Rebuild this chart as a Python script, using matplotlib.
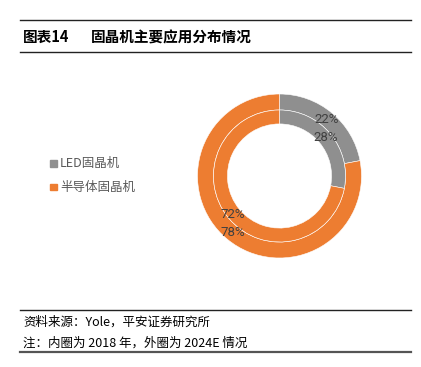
import matplotlib.pyplot as plt
from matplotlib.lines import Line2D

plt.rcParams['font.family'] = ['Noto Sans CJK SC', 'DejaVu Sans']

# 数据
categories = ["LED固晶机", "半导体固晶机"]
inner_2018 = [28, 72]
outer_2024 = [22, 78]
colors = ["#8f8f8f", "#ed7d31"]

W, H = 421, 367
fig = plt.figure(figsize=(W / 100, H / 100), dpi=100)

def fx(px):
    return px / W

def fy(py):
    return 1 - py / H

# titolo e linee di cornice
fig.add_artist(Line2D([fx(20), fx(411)], [fy(20), fy(20)], color="#222222", lw=1.0))
fig.add_artist(Line2D([fx(20), fx(411)], [fy(52), fy(52)], color="#222222", lw=1.0))
fig.text(fx(23), fy(37), "图表14", fontsize=10.5, fontweight="bold", va="center")
fig.text(fx(91), fy(37), "固晶机主要应用分布情况", fontsize=10.5, fontweight="bold", va="center")

fig.add_artist(Line2D([fx(20), fx(411)], [fy(310), fy(310)], color="#222222", lw=1.0))
fig.add_artist(Line2D([fx(20), fx(411)], [fy(352), fy(352)], color="#555555", lw=1.6))
fig.text(fx(23), fy(322), "资料来源：Yole，平安证券研究所", fontsize=9, va="center", style="italic")
fig.text(fx(23), fy(343), "注：内圈为 2018 年，外圈为 2024E 情况", fontsize=9, va="center", style="italic")

# ciambella
cx, cy, r = 279.5, 176, 82
ax = fig.add_axes([fx(cx - r), fy(cy + r), 2 * r / W, 2 * r / H])

lbl = dict(fontsize=9.5, color="#404040", family=["Roboto", "DejaVu Sans"])
ax.pie(outer_2024, radius=1.0, colors=colors, startangle=90, counterclock=False,
       autopct="%d%%", pctdistance=0.9, textprops=lbl,
       wedgeprops=dict(width=0.195, edgecolor="white", linewidth=0.4))
ax.pie(inner_2018, radius=0.805, colors=colors, startangle=90, counterclock=False,
       autopct="%d%%", pctdistance=0.91, textprops=lbl,
       wedgeprops=dict(width=0.17, edgecolor="white", linewidth=0.4))
ax.set_xlim(-1, 1)
ax.set_ylim(-1, 1)
ax.set_aspect("auto")
ax.axis("off")

# legenda
for i, (name, c) in enumerate(zip(categories, colors)):
    y = 163 + 24 * i
    fig.patches.append(plt.Rectangle((fx(50), fy(y + 3.5)), 7 / W, 7 / H,
                                     transform=fig.transFigure, color=c))
    fig.text(fx(60), fy(y), name, fontsize=9, color="#595959", va="center")

fig.savefig("out.png", dpi=100)
